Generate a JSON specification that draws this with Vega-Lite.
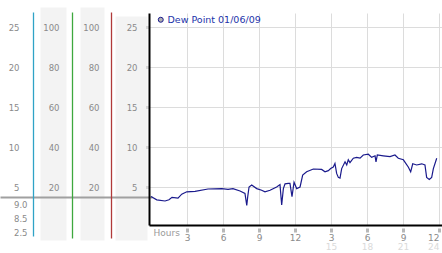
{
  "$schema": "https://vega.github.io/schema/vega-lite/v6.json",
  "width": 293,
  "height": 212,
  "autosize": {"type": "none"},
  "padding": {"left": 149, "top": 13, "right": 0, "bottom": 28},
  "background": "white",
  "config": {
    "view": {"stroke": null},
    "axis": {"labelFont": "DejaVu Sans", "labelFontSize": 8.5, "labelColor": "#8a8a8a", "titleFont": "DejaVu Sans", "grid": false}
  },
  "datasets": {
    "dew": [
      {"hour": 0.0, "dew": 3.8}, {"hour": 0.48, "dew": 3.4}, {"hour": 1.17, "dew": 3.25}, {"hour": 1.5, "dew": 3.4},
      {"hour": 1.75, "dew": 3.7}, {"hour": 2.25, "dew": 3.6}, {"hour": 2.56, "dew": 4.1}, {"hour": 2.98, "dew": 4.4},
      {"hour": 3.67, "dew": 4.45}, {"hour": 4.75, "dew": 4.75}, {"hour": 5.89, "dew": 4.8}, {"hour": 6.42, "dew": 4.7},
      {"hour": 6.83, "dew": 4.8}, {"hour": 7.42, "dew": 4.5}, {"hour": 7.83, "dew": 4.2}, {"hour": 7.98, "dew": 2.7},
      {"hour": 8.06, "dew": 3.8}, {"hour": 8.17, "dew": 5.0}, {"hour": 8.39, "dew": 5.25}, {"hour": 8.81, "dew": 4.8},
      {"hour": 9.22, "dew": 4.6}, {"hour": 9.5, "dew": 4.4}, {"hour": 9.92, "dew": 4.6}, {"hour": 10.47, "dew": 5.0},
      {"hour": 10.75, "dew": 5.3}, {"hour": 10.89, "dew": 2.75}, {"hour": 11.03, "dew": 4.8}, {"hour": 11.17, "dew": 5.4},
      {"hour": 11.44, "dew": 5.45}, {"hour": 11.58, "dew": 5.45}, {"hour": 11.75, "dew": 3.8}, {"hour": 11.92, "dew": 5.6},
      {"hour": 12.14, "dew": 4.8}, {"hour": 12.42, "dew": 5.0}, {"hour": 12.64, "dew": 6.5}, {"hour": 12.97, "dew": 6.9},
      {"hour": 13.53, "dew": 7.25}, {"hour": 14.22, "dew": 7.2}, {"hour": 14.5, "dew": 6.9}, {"hour": 14.78, "dew": 7.05},
      {"hour": 14.97, "dew": 7.3}, {"hour": 15.19, "dew": 7.5}, {"hour": 15.33, "dew": 7.95}, {"hour": 15.47, "dew": 6.7},
      {"hour": 15.61, "dew": 6.2}, {"hour": 15.75, "dew": 6.1}, {"hour": 15.89, "dew": 7.3}, {"hour": 16.17, "dew": 8.15},
      {"hour": 16.31, "dew": 7.75}, {"hour": 16.44, "dew": 8.4}, {"hour": 16.58, "dew": 8.05}, {"hour": 16.86, "dew": 8.6},
      {"hour": 17.14, "dew": 8.7}, {"hour": 17.42, "dew": 8.6}, {"hour": 17.69, "dew": 9.0}, {"hour": 18.11, "dew": 9.1},
      {"hour": 18.39, "dew": 8.7}, {"hour": 18.67, "dew": 8.9}, {"hour": 18.75, "dew": 8.15}, {"hour": 18.86, "dew": 9.0},
      {"hour": 19.36, "dew": 8.9}, {"hour": 19.92, "dew": 8.8}, {"hour": 20.33, "dew": 9.0}, {"hour": 20.61, "dew": 8.6},
      {"hour": 21.03, "dew": 8.4}, {"hour": 21.44, "dew": 7.5}, {"hour": 21.64, "dew": 6.9}, {"hour": 21.81, "dew": 7.9},
      {"hour": 22.14, "dew": 7.75}, {"hour": 22.56, "dew": 7.9}, {"hour": 22.83, "dew": 7.75}, {"hour": 22.97, "dew": 6.2},
      {"hour": 23.19, "dew": 5.95}, {"hour": 23.39, "dew": 6.2}, {"hour": 23.53, "dew": 7.3}, {"hour": 23.81, "dew": 8.6}
    ],
    "extra": [{"lbl": "9.0"}, {"lbl": "8.5"}, {"lbl": "2.5"}]
  },
  "data": {"name": "dew"},
  "layer": [
    {
      "mark": {"type": "point", "opacity": 0},
      "encoding": {"y": {"field": "dew", "type": "quantitative", "scale": {"domain": [0, 1], "range": [227, -6], "nice": false, "zero": false},
        "axis": {"orient": "left", "offset": 96, "domainColor": "#f3f3f3", "domainWidth": 26, "ticks": false, "labels": false, "title": null}}}
    },
    {
      "mark": {"type": "point", "opacity": 0},
      "encoding": {"y": {"field": "dew", "type": "quantitative", "scale": {"domain": [0, 1], "range": [227, -6], "nice": false, "zero": false},
        "axis": {"orient": "left", "offset": 57, "domainColor": "#f3f3f3", "domainWidth": 24, "ticks": false, "labels": false, "title": null}}}
    },
    {
      "mark": {"type": "point", "opacity": 0},
      "encoding": {"y": {"field": "dew", "type": "quantitative", "scale": {"domain": [0, 1], "range": [227, 3], "nice": false, "zero": false},
        "axis": {"orient": "left", "offset": 18, "domainColor": "#f3f3f3", "domainWidth": 32, "ticks": false, "labels": false, "title": null}}}
    },
    {
      "mark": {"type": "point", "opacity": 0},
      "encoding": {"y": {"field": "dew", "type": "quantitative", "scale": {"domain": [0.25, 26.75], "nice": false, "zero": false},
        "axis": {"orient": "left", "offset": -3, "values": [3.75], "domain": false, "labels": false, "tickSize": 152, "tickColor": "#a0a0a0", "tickWidth": 2, "title": null}}}
    },
    {
      "mark": {"type": "point", "opacity": 0},
      "encoding": {"y": {"field": "dew", "type": "quantitative", "scale": {"domain": [0, 1], "range": [223, -1], "nice": false, "zero": false},
        "axis": {"orient": "left", "offset": 116, "domainColor": "#2fa3c6", "domainWidth": 1.3, "ticks": false, "labels": false, "title": null}}}
    },
    {
      "mark": {"type": "point", "opacity": 0},
      "encoding": {"y": {"field": "dew", "type": "quantitative", "scale": {"domain": [0, 1], "range": [225, -1], "nice": false, "zero": false},
        "axis": {"orient": "left", "offset": 77, "domainColor": "#3ea83e", "domainWidth": 1.3, "ticks": false, "labels": false, "title": null}}}
    },
    {
      "mark": {"type": "point", "opacity": 0},
      "encoding": {"y": {"field": "dew", "type": "quantitative", "scale": {"domain": [0, 1], "range": [225, -1], "nice": false, "zero": false},
        "axis": {"orient": "left", "offset": 38, "domainColor": "#b03a3a", "domainWidth": 1.3, "ticks": false, "labels": false, "title": null}}}
    },
    {
      "mark": {"type": "point", "opacity": 0},
      "encoding": {"y": {"field": "dew", "type": "quantitative", "scale": {"domain": [0.25, 26.75], "nice": false, "zero": false},
        "axis": {"orient": "left", "offset": 130, "values": [5, 10, 15, 20, 25], "domain": false, "ticks": false, "tickSize": 0, "labelPadding": 0, "title": null}}}
    },
    {
      "data": {"name": "extra"},
      "mark": {"type": "point", "opacity": 0},
      "encoding": {"y": {"field": "lbl", "type": "ordinal", "scale": {"type": "point", "domain": ["9.0", "8.5", "2.5"], "range": [191.5, 219.2], "padding": 0},
        "axis": {"orient": "left", "offset": 122, "domain": false, "ticks": false, "tickSize": 0, "labelPadding": 0, "title": null}}}
    },
    {
      "mark": {"type": "point", "opacity": 0},
      "encoding": {"y": {"field": "dew", "type": "quantitative", "scale": {"domain": [1, 107], "nice": false, "zero": false},
        "axis": {"orient": "left", "offset": 90, "values": [20, 40, 60, 80, 100], "domain": false, "ticks": false, "tickSize": 0, "labelPadding": 0, "title": null}}}
    },
    {
      "mark": {"type": "point", "opacity": 0},
      "encoding": {"y": {"field": "dew", "type": "quantitative", "scale": {"domain": [1, 107], "nice": false, "zero": false},
        "axis": {"orient": "left", "offset": 50, "values": [20, 40, 60, 80, 100], "domain": false, "ticks": false, "tickSize": 0, "labelPadding": 0, "title": null}}}
    },
    {
      "mark": {"type": "line", "strokeWidth": 1.2, "interpolate": "linear"},
      "encoding": {
        "x": {"field": "hour", "type": "quantitative", "scale": {"domain": [-0.167, 24.25], "nice": false, "zero": false},
          "axis": {"orient": "bottom", "values": [3, 6, 9, 12, 15, 18, 21, 24], "labelExpr": "datum.value % 12 == 0 ? '12' : '' + (datum.value % 12)",
            "grid": true, "gridColor": "#dcdcdc", "gridWidth": 1, "domainColor": "#000000", "domainWidth": 2, "labelFlush": 6,
            "tickSize": 7, "tickColor": "#b8b8b8", "tickWidth": 3, "tickDash": [0, 3, 4], "labelPadding": 1, "labelFontSize": 9, "labelColor": "#8a8a8a",
            "title": "Hours", "titleX": 4, "titleY": 7, "titleAlign": "left", "titleBaseline": "middle", "titleFontWeight": "normal", "titleFontSize": 9, "titleColor": "#9a9a9a"}},
        "y": {"field": "dew", "type": "quantitative", "scale": {"domain": [0.25, 26.75], "nice": false, "zero": false},
          "axis": {"orient": "left", "values": [5, 10, 15, 20, 25], "grid": true, "gridColor": "#dcdcdc", "gridWidth": 1,
            "domainColor": "#000000", "domainWidth": 2, "tickSize": 4, "tickColor": "#b8b8b8", "tickWidth": 3, "tickDash": [1, 1], "labelPadding": 8, "title": null}},
        "color": {"datum": "Dew Point 01/06/09", "type": "nominal", "scale": {"range": ["#1a1a8c"]},
          "legend": {"orient": "none", "legendX": 7, "legendY": 2, "title": null, "padding": 0, "symbolType": "circle", "symbolSize": 25,
            "labelFont": "DejaVu Sans", "labelFontSize": 9.5, "labelColor": "#2233aa", "labelOffset": 2,
            "encode": {"symbols": {"update": {"fill": {"value": "#b0b0b0"}, "stroke": {"value": "#999999"}, "strokeWidth": {"value": 1}}}}}}
      }
    },
    {
      "mark": {"type": "point", "opacity": 0},
      "encoding": {"x": {"field": "hour", "type": "quantitative",
        "axis": {"orient": "bottom", "values": [15, 18, 21, 24], "domain": false, "ticks": false, "tickSize": 0, "labelPadding": 17, "labelFontSize": 9, "labelColor": "#dadada", "labelFlush": 6, "title": null}}}
    }
  ],
  "resolve": {"scale": {"y": "independent"}, "axis": {"y": "independent", "x": "independent"}}
}
